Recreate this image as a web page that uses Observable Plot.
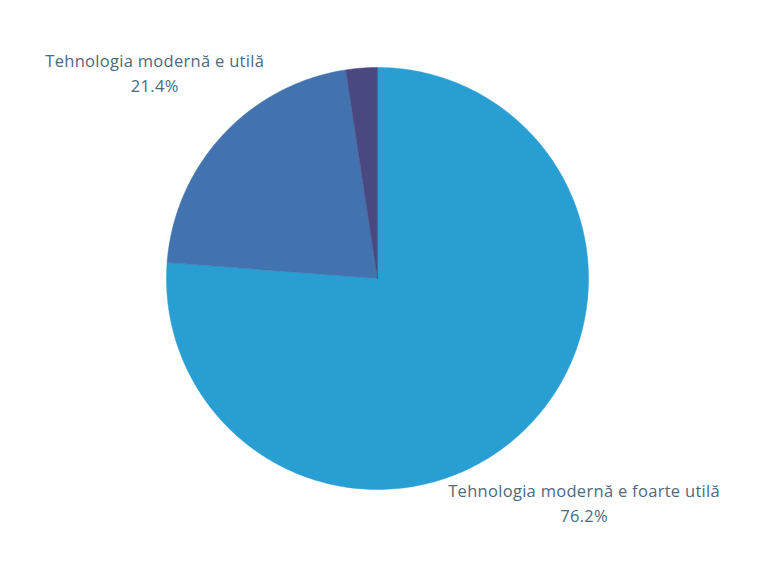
<!DOCTYPE html>
<html>
<head>
<meta charset="utf-8">
<script src="https://cdn.jsdelivr.net/npm/d3@7"></script>
<script src="https://cdn.jsdelivr.net/npm/@observablehq/plot@0.6"></script>
<style>
  html, body { margin: 0; padding: 0; background: #ffffff; }
  #chart { width: 768px; height: 576px; }
</style>
</head>
<body>
<div id="chart"></div>
<script>
const categories = ["Tehnologia modernă e foarte utilă", "Tehnologia modernă e utilă", "Tehnologia modernă nu e utilă"];
const values = [76.2, 21.4, 2.4];
const labels = ["Tehnologia modernă e foarte utilă\n76.2%", "Tehnologia modernă e utilă\n21.4%", ""];
const colors = ["#289ed3", "#4273ae", "#4a4880"];

const pie = d3.pie().sort(null).value(d => d.value);
const arcs = pie(categories.map((c, i) => ({category: c, value: values[i], label: labels[i]})));

const outline = [];
arcs.forEach(a => {
  const c = a.data.category;
  outline.push({category: c, x: 0, y: 0});
  const n = Math.max(2, Math.ceil((a.endAngle - a.startAngle) / (Math.PI / 180)));
  for (let k = 0; k <= n; k++) {
    const t = a.startAngle + (a.endAngle - a.startAngle) * k / n;
    outline.push({category: c, x: Math.sin(t), y: Math.cos(t)});
  }
  outline.push({category: c, x: 0, y: 0});
});

const labelR = 1.44;
const labelData = arcs.filter(a => a.data.label).map(a => {
  const m = (a.startAngle + a.endAngle) / 2;
  return {label: a.data.label, x: labelR * Math.sin(m), y: labelR * Math.cos(m)};
});

const chart = Plot.plot({
  width: 768,
  height: 576,
  marginLeft: 166,
  marginRight: 180,
  marginTop: 67,
  marginBottom: 87,
  x: {domain: [-1, 1], axis: null},
  y: {domain: [-1, 1], axis: null},
  color: {domain: categories, range: colors},
  style: {fontFamily: "'Open Sans', sans-serif", background: "#ffffff"},
  marks: [
    Plot.line(outline, {x: "x", y: "y", z: "category", fill: "category", stroke: "category", strokeWidth: 0.5, curve: "linear"}),
    Plot.text(labelData, {x: "x", y: "y", text: "label", fill: "#4d6a7e", fontSize: 16.5, lineHeight: 1.5, textAnchor: "middle", clip: false, style: "letter-spacing:0.3px"})
  ]
});
chart.querySelectorAll("text").forEach(t => t.style.letterSpacing = "0.3px");
document.getElementById("chart").appendChild(chart);
</script>
</body>
</html>
